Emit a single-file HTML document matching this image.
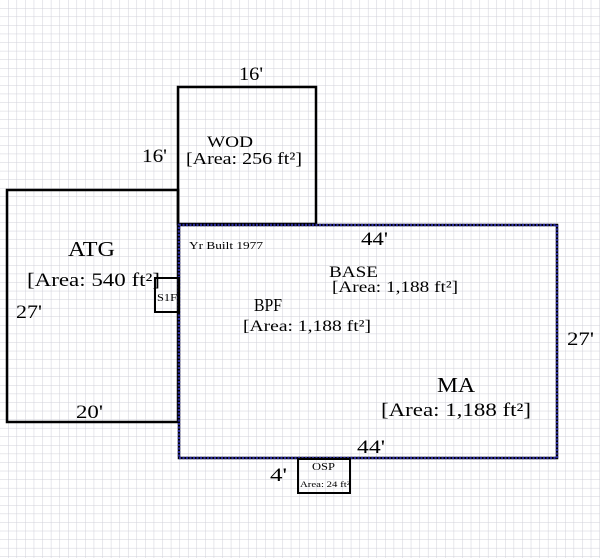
<!DOCTYPE html>
<html><head><style>
body{margin:0;width:600px;height:558px;overflow:hidden;background:#fff;}
svg{display:block}
text{font-family:"Liberation Serif",serif;fill:#000}
</style></head><body>
<svg width="600" height="558" viewBox="0 0 600 558">
<defs>
<pattern id="g" x="8" y="8" width="8.57" height="8.57" patternUnits="userSpaceOnUse">
<path d="M0 0H8.57M0 0V8.57" stroke="#cfcfd8" stroke-width="1" fill="none"/>
</pattern>
</defs>
<rect width="600" height="558" fill="url(#g)"/>
<rect x="178" y="87" width="138" height="137" fill="none" stroke="#000" stroke-width="2.5"/>
<rect x="7" y="190" width="171" height="232" fill="none" stroke="#000" stroke-width="2.5"/>
<rect x="179" y="225" width="378" height="233" fill="none" stroke="#000" stroke-width="2.5"/>
<rect x="179" y="225" width="378" height="233" fill="none" stroke="#2a2a9a" stroke-width="2.5" stroke-dasharray="2 1.5"/>
<rect x="155" y="278" width="24" height="34" fill="none" stroke="#000" stroke-width="2"/>
<rect x="298" y="459" width="52" height="34" fill="none" stroke="#000" stroke-width="2"/>
<text x="239" y="80" font-size="19" textLength="24" lengthAdjust="spacingAndGlyphs">16'</text>
<text x="142" y="162" font-size="19" textLength="25" lengthAdjust="spacingAndGlyphs">16'</text>
<text x="207" y="147" font-size="16" textLength="46" lengthAdjust="spacingAndGlyphs">WOD</text>
<text x="186" y="164" font-size="17" textLength="116" lengthAdjust="spacingAndGlyphs">[Area: 256 ft²]</text>
<text x="68" y="256" font-size="21" textLength="47" lengthAdjust="spacingAndGlyphs">ATG</text>
<text x="27" y="286" font-size="19" textLength="133" lengthAdjust="spacingAndGlyphs">[Area: 540 ft²]</text>
<text x="16" y="318" font-size="19" textLength="26" lengthAdjust="spacingAndGlyphs">27'</text>
<text x="76" y="418" font-size="19" textLength="27" lengthAdjust="spacingAndGlyphs">20'</text>
<text x="157" y="301" font-size="10" textLength="20" lengthAdjust="spacingAndGlyphs">S1F</text>
<text x="189" y="249" font-size="11" textLength="74" lengthAdjust="spacingAndGlyphs">Yr Built 1977</text>
<text x="361" y="245" font-size="19" textLength="27" lengthAdjust="spacingAndGlyphs">44'</text>
<text x="329" y="277" font-size="16" textLength="49" lengthAdjust="spacingAndGlyphs">BASE</text>
<text x="332" y="292" font-size="16" textLength="126" lengthAdjust="spacingAndGlyphs">[Area: 1,188 ft²]</text>
<text x="254" y="311" font-size="18" textLength="28" lengthAdjust="spacingAndGlyphs">BPF</text>
<text x="243" y="331" font-size="16" textLength="128" lengthAdjust="spacingAndGlyphs">[Area: 1,188 ft²]</text>
<text x="567" y="345" font-size="19" textLength="27" lengthAdjust="spacingAndGlyphs">27'</text>
<text x="437" y="392" font-size="21" textLength="38" lengthAdjust="spacingAndGlyphs">MA</text>
<text x="381" y="416" font-size="19" textLength="150" lengthAdjust="spacingAndGlyphs">[Area: 1,188 ft²]</text>
<text x="357" y="453" font-size="19" textLength="28" lengthAdjust="spacingAndGlyphs">44'</text>
<text x="270" y="481" font-size="19" textLength="17" lengthAdjust="spacingAndGlyphs">4'</text>
<text x="312" y="470" font-size="11" textLength="23" lengthAdjust="spacingAndGlyphs">OSP</text>
<text x="300" y="487" font-size="8" textLength="50" lengthAdjust="spacingAndGlyphs">Area: 24 ft²</text>
</svg>
</body></html>
